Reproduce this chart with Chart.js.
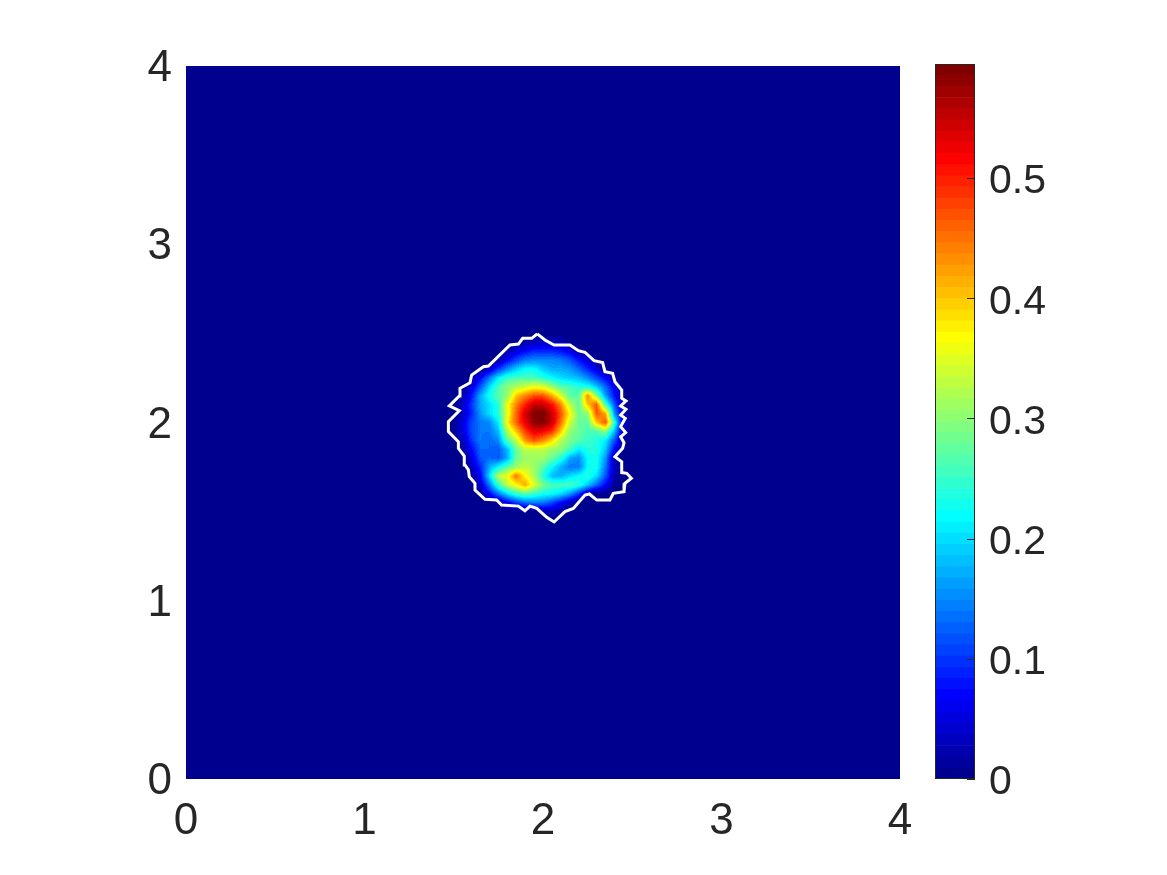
<!DOCTYPE html>
<html>
<head>
<meta charset="utf-8">
<title>Heat map</title>
<script src="https://cdn.jsdelivr.net/npm/chart.js@4/dist/chart.umd.min.js"></script>
<style>
  body { margin: 0; background: #fff; }
  canvas { position: absolute; left: 0; top: 0; }
</style>
</head>
<body>
<canvas id="field" width="1167" height="875"></canvas>
<canvas id="bar" width="1167" height="875"></canvas>
<script>
// axis ticks
const xTicks = [0, 1, 2, 3, 4];
const yTicks = [0, 1, 2, 3, 4];
const barTicks = [0, 0.1, 0.2, 0.3, 0.4, 0.5];
const barMax = 0.595;
const levelCount = 64;

// grid nodes of the non-zero part of the field, everything else is 0
const fieldX = [1.45, 1.5, 1.55, 1.6, 1.65, 1.7, 1.75, 1.8, 1.85, 1.9, 1.95, 2, 2.05, 2.1, 2.15, 2.2, 2.25, 2.3, 2.35, 2.4, 2.45, 2.5, 2.55];
const fieldY = [2.55, 2.5, 2.45, 2.4, 2.35, 2.3, 2.25, 2.2, 2.15, 2.1, 2.05, 2, 1.95, 1.9, 1.85, 1.8, 1.75, 1.7, 1.65, 1.6, 1.55, 1.5, 1.45];
const fieldRows = [
  [0,0,0,0,0,0,0,0,0,0,0,0,0,0,0,0,0,0,0,0,0,0,0],
  [0,0,0,0,0,0,0,0,0,0,0,0,0,0,0,0,0,0,0,0,0,0,0],
  [0,0,0,0,0,0,0,0,.01,.02,.03,.04,.03,.03,.01,0,0,0,0,0,0,0,0],
  [0,0,0,0,0,0,0,.02,.05,.07,.09,.09,.09,.08,.06,.02,0,0,0,0,0,0,0],
  [0,0,0,0,0,0,.02,.07,.11,.14,.15,.15,.15,.14,.12,.08,.05,.01,0,0,0,0,0],
  [0,0,0,0,0,.04,.10,.15,.19,.22,.22,.19,.17,.17,.16,.13,.09,.05,.01,0,0,0,0],
  [0,0,0,.01,.07,.14,.21,.25,.26,.26,.26,.24,.22,.20,.19,.18,.15,.11,.07,.02,0,0,0],
  [0,0,.01,.05,.12,.20,.26,.30,.32,.34,.36,.35,.31,.27,.26,.24,.23,.19,.13,.06,0,0,0],
  [0,0,.02,.08,.17,.23,.27,.30,.40,.44,.47,.47,.42,.35,.27,.27,.44,.30,.16,.08,0,0,0],
  [0,0,.04,.10,.17,.20,.24,.36,.44,.50,.55,.55,.51,.44,.33,.27,.40,.47,.26,.12,.02,0,0],
  [0,0,.03,.09,.16,.20,.24,.35,.46,.54,.59,.595,.55,.47,.37,.28,.30,.47,.42,.16,.03,0,0],
  [0,.01,.05,.11,.14,.15,.21,.37,.46,.53,.58,.59,.55,.45,.34,.28,.27,.40,.47,.24,.04,0,0],
  [0,.01,.05,.11,.14,.14,.18,.32,.40,.48,.53,.52,.49,.40,.30,.28,.26,.26,.30,.18,.03,0,0],
  [0,0,.03,.10,.14,.13,.15,.27,.33,.43,.47,.44,.39,.32,.29,.27,.25,.24,.21,.12,.01,0,0],
  [0,0,.01,.07,.13,.13,.12,.18,.28,.33,.33,.33,.31,.30,.26,.21,.24,.24,.19,.07,0,0,0],
  [0,0,0,.05,.12,.13,.12,.17,.28,.31,.31,.31,.28,.24,.17,.15,.22,.23,.16,.02,0,0,0],
  [0,0,0,.03,.09,.17,.22,.27,.31,.33,.31,.27,.22,.17,.14,.14,.22,.23,.14,.03,0,0,0],
  [0,0,0,.01,.07,.20,.33,.36,.45,.37,.32,.24,.18,.17,.20,.22,.24,.20,.12,.02,0,0,0],
  [0,0,0,0,.04,.14,.25,.33,.37,.42,.35,.29,.26,.26,.26,.24,.19,.13,.07,.01,0,0,0],
  [0,0,0,0,.01,.07,.14,.20,.25,.27,.25,.23,.22,.20,.16,.10,.02,0,0,0,0,0,0],
  [0,0,0,0,0,0,.01,.06,.10,.13,.14,.14,.11,.07,.03,0,0,0,0,0,0,0,0],
  [0,0,0,0,0,0,0,0,0,0,0,.02,.03,.01,0,0,0,0,0,0,0,0,0],
  [0,0,0,0,0,0,0,0,0,0,0,0,0,0,0,0,0,0,0,0,0,0,0]
];

// white outline of the support
const outlineX = [1.968, 2.011, 2.062, 2.151, 2.198, 2.235, 2.286, 2.334, 2.347, 2.39, 2.403, 2.441, 2.441, 2.465, 2.435, 2.465, 2.435, 2.461, 2.435, 2.463, 2.435, 2.454, 2.446, 2.403, 2.441, 2.441, 2.469, 2.495, 2.459, 2.454, 2.394, 2.375, 2.301, 2.26, 2.235, 2.17, 2.123, 2.062, 2.021, 1.965, 1.927, 1.899, 1.862, 1.768, 1.74, 1.675, 1.619, 1.619, 1.587, 1.582, 1.563, 1.559, 1.526, 1.526, 1.47, 1.47, 1.531, 1.475, 1.531, 1.535, 1.591, 1.6, 1.666, 1.694, 1.815, 1.862, 1.886, 1.937, 1.968];
const outlineY = [2.497, 2.463, 2.435, 2.435, 2.403, 2.394, 2.347, 2.336, 2.285, 2.276, 2.229, 2.182, 2.136, 2.121, 2.093, 2.074, 2.042, 2.023, 1.977, 1.943, 1.92, 1.887, 1.855, 1.808, 1.78, 1.719, 1.715, 1.687, 1.659, 1.612, 1.603, 1.565, 1.565, 1.599, 1.593, 1.518, 1.5, 1.442, 1.468, 1.518, 1.531, 1.505, 1.531, 1.537, 1.565, 1.569, 1.621, 1.659, 1.696, 1.734, 1.762, 1.812, 1.855, 1.892, 1.949, 2.005, 2.066, 2.093, 2.149, 2.192, 2.223, 2.266, 2.313, 2.317, 2.435, 2.44, 2.472, 2.472, 2.497];

const textColor = '#262626';
const fontFamily = '"Liberation Sans", Arial, sans-serif';
const tickFont = { family: fontFamily, size: 44 };
const barFont = { family: fontFamily, size: 41 };

// matlab jet, 64 steps
function jet(k) {
    const c = (v) => Math.round(255 * Math.max(0, Math.min(1, v)));
    return [
        c(Math.min((k - 23) / 16, (71 - k) / 16)),
        c(Math.min((k - 7) / 16, (55 - k) / 16)),
        c(Math.min((k + 9) / 16, (39 - k) / 16))
    ];
}

// shaded field, read through the scales like matlab's interp shading
const fieldPlugin = {
    id: 'fieldShade',
    beforeDatasetsDraw(chart) {
        const { ctx, chartArea: area, scales } = chart;
        const base = jet(0);
        ctx.fillStyle = `rgb(${base[0]},${base[1]},${base[2]})`;
        ctx.fillRect(area.left, area.top, area.right - area.left, area.bottom - area.top);

        const dx = fieldX[1] - fieldX[0];
        const dy = fieldY[0] - fieldY[1];
        const left = Math.floor(scales.x.getPixelForValue(fieldX[0]));
        const right = Math.ceil(scales.x.getPixelForValue(fieldX[fieldX.length - 1]));
        const top = Math.floor(scales.y.getPixelForValue(fieldY[0]));
        const bottom = Math.ceil(scales.y.getPixelForValue(fieldY[fieldY.length - 1]));
        const img = ctx.createImageData(right - left, bottom - top);
        for (let py = top; py < bottom; py++) {
            const fy = (fieldY[0] - scales.y.getValueForPixel(py + 0.5)) / dy;
            const r = Math.max(0, Math.min(fieldY.length - 2, Math.floor(fy)));
            const ty = Math.max(0, Math.min(1, fy - r));
            for (let px = left; px < right; px++) {
                const fx = (scales.x.getValueForPixel(px + 0.5) - fieldX[0]) / dx;
                const c = Math.max(0, Math.min(fieldX.length - 2, Math.floor(fx)));
                const tx = Math.max(0, Math.min(1, fx - c));
                const v = (fieldRows[r][c] * (1 - tx) + fieldRows[r][c + 1] * tx) * (1 - ty)
                    + (fieldRows[r + 1][c] * (1 - tx) + fieldRows[r + 1][c + 1] * tx) * ty;
                const col = jet(Math.min(levelCount - 1, Math.floor(v / barMax * levelCount)));
                const i = ((py - top) * (right - left) + (px - left)) * 4;
                img.data[i] = col[0];
                img.data[i + 1] = col[1];
                img.data[i + 2] = col[2];
                img.data[i + 3] = 255;
            }
        }
        ctx.putImageData(img, left, top);
    }
};

new Chart(document.getElementById('field'), {
    type: 'scatter',
    data: {
        datasets: [{
            label: 'outline',
            data: outlineX.map((x, i) => ({ x: x, y: outlineY[i] })),
            showLine: true,
            borderColor: '#ffffff',
            borderWidth: 3,
            tension: 0,
            pointRadius: 0
        }]
    },
    options: {
        responsive: false,
        animation: false,
        layout: { padding: { top: 66, right: 267 } },
        plugins: { legend: { display: false }, tooltip: { enabled: false } },
        scales: {
            x: {
                type: 'linear', min: 0, max: 4,
                afterBuildTicks(scale) { scale.ticks = xTicks.map((v) => ({ value: v })); },
                afterFit(scale) { scale.height = 96; },
                grid: { display: false },
                border: { display: false },
                ticks: { color: textColor, font: tickFont, padding: 8, maxRotation: 0, autoSkip: false }
            },
            y: {
                type: 'linear', min: 0, max: 4,
                afterBuildTicks(scale) { scale.ticks = yTicks.map((v) => ({ value: v })); },
                afterFit(scale) { scale.width = 186; },
                grid: { display: false },
                border: { display: false },
                ticks: { color: textColor, font: tickFont, padding: 6, labelOffset: 3, autoSkip: false }
            }
        }
    },
    plugins: [fieldPlugin]
});

// colorbar outline and inner ticks
const barFrame = {
    id: 'barFrame',
    afterDatasetsDraw(chart) {
        const { ctx, chartArea: area, scales } = chart;
        ctx.save();
        ctx.strokeStyle = textColor;
        ctx.lineWidth = 1;
        ctx.strokeRect(area.left + 0.5, area.top + 0.5, area.right - area.left - 1, area.bottom - area.top - 1);
        barTicks.forEach((v) => {
            const y = Math.round(scales.y.getPixelForValue(v)) + 0.5;
            ctx.beginPath();
            ctx.moveTo(area.right - 8, y);
            ctx.lineTo(area.right, y);
            ctx.stroke();
        });
        ctx.restore();
    }
};

const levels = Array.from({ length: levelCount }, (_, k) => k);

new Chart(document.getElementById('bar'), {
    type: 'bar',
    data: {
        labels: ['level'],
        datasets: levels.map((k) => {
            const c = jet(k);
            return {
                data: [[k * barMax / levelCount, (k + 1) * barMax / levelCount]],
                backgroundColor: `rgb(${c[0]},${c[1]},${c[2]})`,
                borderWidth: 0,
                barPercentage: 1,
                categoryPercentage: 1
            };
        })
    },
    options: {
        responsive: false,
        animation: false,
        layout: { padding: { left: 935, top: 64, bottom: 96 } },
        plugins: { legend: { display: false }, tooltip: { enabled: false } },
        scales: {
            x: { display: false, stacked: true },
            y: {
                position: 'right',
                min: 0, max: barMax,
                afterBuildTicks(scale) { scale.ticks = barTicks.map((v) => ({ value: v })); },
                afterFit(scale) { scale.width = 192; },
                grid: { display: false },
                border: { display: false },
                ticks: {
                    color: textColor, font: barFont, padding: 6, labelOffset: 4, autoSkip: false,
                    callback: (v) => String(v)
                }
            }
        }
    },
    plugins: [barFrame]
});
</script>
</body>
</html>
